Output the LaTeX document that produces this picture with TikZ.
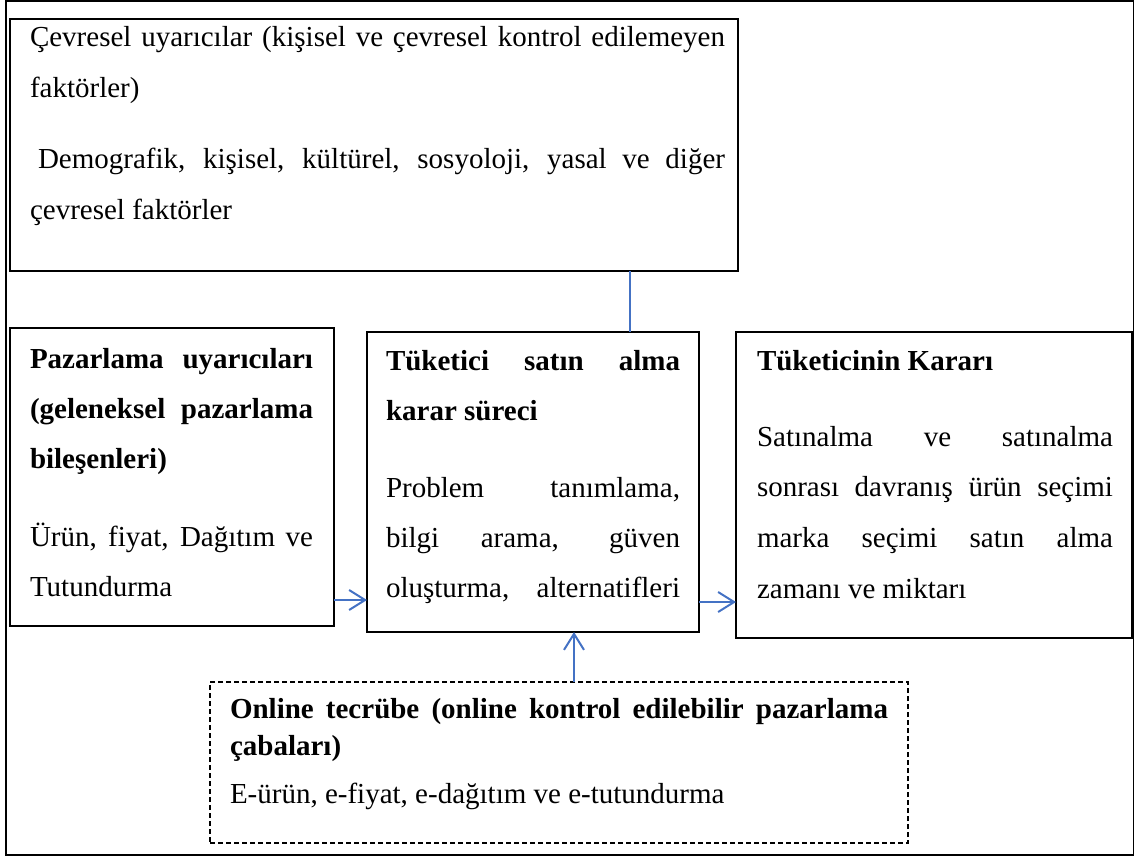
\documentclass[tikz,border=0pt]{standalone}
\usepackage{fontspec}
\setmainfont{Liberation Serif}
\usetikzlibrary{arrows.meta}
\definecolor{linkblue}{RGB}{68,114,196}
\begin{document}
\begin{tikzpicture}[x=1pt,y=-1pt,
  frame/.style={draw=black, line width=1.8pt},
  box/.style={draw=black, line width=1.4pt, inner sep=0pt, outer sep=0pt, anchor=north west},
  dbox/.style={box, line width=1.1pt, dash pattern=on 5pt off 3pt},
  ln/.style={anchor=base west, inner sep=0pt, outer sep=0pt, font=\fontsize{29}{35}\selectfont},
  hd/.style={ln, font=\fontsize{29}{35}\selectfont\bfseries},
  conn/.style={draw=linkblue, line width=2pt},
  arr/.style={conn, -{Straight Barb[length=16pt, width=20pt]}}
]
\useasboundingbox (0,0) rectangle (1134,859);

% outer frame
\draw[frame] (6,1) rectangle (1134,855);

% boxes
\node[box, minimum width=728pt, minimum height=252pt] (env) at (10,19) {};
\node[box, minimum width=324pt, minimum height=298pt] (mkt) at (10,328) {};
\node[box, minimum width=332pt, minimum height=300pt] (proc) at (367,332) {};
\node[box, minimum width=396pt, minimum height=306pt] (dec) at (736,332) {};
\node[dbox, minimum width=698pt, minimum height=161pt] (online) at (210,682) {};

% environment box text
\node[ln] (env1) at (30,47) {\makebox[695pt][s]{Çevresel uyarıcılar (kişisel ve çevresel kontrol edilemeyen}};
\node[ln] (env2) at (30,97) {faktörler)};
\node[ln] (env3) at (38,168) {\makebox[687pt][s]{Demografik, kişisel, kültürel, sosyoloji, yasal ve diğer}};
\node[ln] (env4) at (30,219) {çevresel faktörler};

% marketing stimuli text
\node[hd] (mkt1) at (30,368) {\makebox[283pt][s]{Pazarlama uyarıcıları}};
\node[hd] (mkt2) at (30,418) {\makebox[283pt][s]{(geleneksel pazarlama}};
\node[hd] (mkt3) at (30,468) {bileşenleri)};
\node[ln] (mkt4) at (30,546) {\makebox[283pt][s]{Ürün, fiyat, Dağıtım ve}};
\node[ln] (mkt5) at (30,596) {Tutundurma};

% decision process text
\node[hd] (proc1) at (386,370) {\makebox[294pt][s]{Tüketici satın alma}};
\node[hd] (proc2) at (386,420) {karar süreci};
\node[ln] (proc3) at (386,497) {\makebox[294pt][s]{Problem tanımlama,}};
\node[ln] (proc4) at (386,547) {\makebox[294pt][s]{bilgi arama, güven}};
\node[ln] (proc5) at (386,597) {\makebox[294pt][s]{oluşturma, alternatifleri}};

% consumer decision text
\node[hd] (dec1) at (757,370) {Tüketicinin Kararı};
\node[ln] (dec2) at (757,446) {\makebox[356pt][s]{Satınalma ve satınalma}};
\node[ln] (dec3) at (757,496) {\makebox[356pt][s]{sonrası davranış ürün seçimi}};
\node[ln] (dec4) at (757,547) {\makebox[356pt][s]{marka seçimi satın alma}};
\node[ln] (dec5) at (757,598) {zamanı ve miktarı};

% online experience text
\node[hd] (on1) at (230,718) {\makebox[658pt][s]{Online tecrübe (online kontrol edilebilir pazarlama}};
\node[hd] (on2) at (230,755) {çabaları)};
\node[ln] (on3) at (230,803) {E-ürün, e-fiyat, e-dağıtım ve e-tutundurma};

% connector guides
\coordinate (xtop) at (630,0);
\coordinate (xup) at (574,0);
\coordinate (yleft) at (0,600);
\coordinate (yright) at (0,602);

% connectors
\draw[conn] (env.south -| xtop) -- (proc.north -| xtop);
\draw[arr] (mkt.east |- yleft) -- (proc.west |- yleft);
\draw[arr] (proc.east |- yright) -- (dec.west |- yright);
\draw[arr] (online.north -| xup) -- (proc.south -| xup);
\end{tikzpicture}
\end{document}
